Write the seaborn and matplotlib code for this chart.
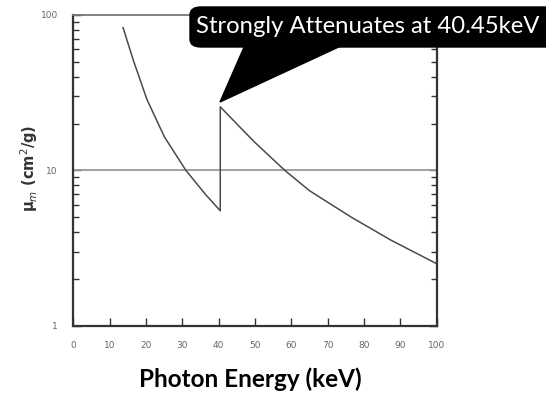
import numpy as np
import pandas as pd
import seaborn as sns
import matplotlib
matplotlib.use("Agg")
import matplotlib.pyplot as plt
from matplotlib.patches import FancyBboxPatch, Polygon
from matplotlib.ticker import LogLocator, NullFormatter, FixedLocator, FixedFormatter

# ---- data ----
energy_kev = [13.7, 16.6, 20.3, 25.1, 31.0, 36.4, 40.45,
              40.45, 47.3, 50.0, 58.2, 65.0, 76.5, 87.3, 100.0]
mu_m = [83.0, 50.5, 28.5, 16.4, 10.0, 7.0, 5.5,
        25.6, 17.5, 15.1, 10.0, 7.4, 5.0, 3.57, 2.51]
x_ticks = [0, 10, 20, 30, 40, 50, 60, 70, 80, 90, 100]
y_ticks = [1, 10, 100]
y_tick_labels = ["1", "10", "100"]
callout_text = "Strongly Attenuates at 40.45keV"
x_label = "Photon Energy (keV)"
y_label = "μ$_m$ (cm$^2$/g)"

df = pd.DataFrame({"energy": energy_kev, "mu": mu_m})

sns.set_theme(style="white")
plt.rcParams["font.family"] = ["DejaVu Sans"]

fig = plt.figure(figsize=(5.46, 3.93), dpi=100)
ax = fig.add_axes([0.134, 0.1705, 0.666, 0.792])

sns.lineplot(data=df, x="energy", y="mu", sort=False, estimator=None,
             color="#4a4a4a", linewidth=1.1, ax=ax)

ax.set_yscale("log")
ax.set_xlim(0, 100)
ax.set_ylim(1, 100)
ax.axhline(10, color="#9a9a9a", linewidth=1.3, zorder=1)

ax.xaxis.set_major_locator(FixedLocator(x_ticks))
ax.yaxis.set_major_locator(FixedLocator(y_ticks))
ax.yaxis.set_major_formatter(FixedFormatter(y_tick_labels))
ax.yaxis.set_minor_locator(LogLocator(base=10, subs=np.arange(2, 10)))
ax.yaxis.set_minor_formatter(NullFormatter())

ax.tick_params(axis="x", which="major", direction="in", length=6, width=1.0,
               color="#333333", labelsize=6.5, labelcolor="#666666", pad=10.5,
               bottom=True, top=False)
ax.tick_params(axis="y", which="major", direction="in", length=6, width=1.0,
               color="#333333", labelsize=6.5, labelcolor="#666666", pad=11,
               left=True, right=True)
ax.tick_params(axis="y", which="minor", direction="in", length=4, width=1.0,
               color="#333333", left=True, right=True)

for side in ["left", "right", "top", "bottom"]:
    ax.spines[side].set_visible(True)
    ax.spines[side].set_color("#333333")
    ax.spines[side].set_linewidth(1.6)
ax.spines["top"].set_color("#777777")
ax.spines["top"].set_linewidth(1.3)

ax.set_xlabel("")
ax.set_ylabel("")

W, H = 546, 393
def fx(px):
    return px / W
def fy(py):
    return 1 - py / H

fig.text(fx(29), fy(168), y_label, rotation=90, ha="center", va="center",
         fontsize=10.5, fontweight="bold", color="#333333")
fig.text(fx(250), fy(387), x_label, ha="center", va="baseline",
         fontsize=17.5, fontweight="bold", color="black", family=["Lato", "DejaVu Sans"])

# ---- callout ----
box = FancyBboxPatch((fx(190), fy(47)), fx(565) - fx(190), fy(7) - fy(47),
                     boxstyle="round,pad=0,rounding_size=0.02",
                     transform=fig.transFigure, facecolor="black",
                     edgecolor="black", clip_on=False, zorder=5)
fig.patches.append(box)
wedge = Polygon([(fx(245), fy(45)), (fx(343), fy(45)), (fx(220), fy(102))],
                closed=True, transform=fig.transFigure, facecolor="black",
                edgecolor="black", zorder=5)
fig.patches.append(wedge)
fig.text(fx(196), fy(33), callout_text, ha="left", va="baseline",
         fontsize=17.2, color="white", family=["Lato", "DejaVu Sans"], zorder=6)

fig.savefig("out.png", dpi=100)
